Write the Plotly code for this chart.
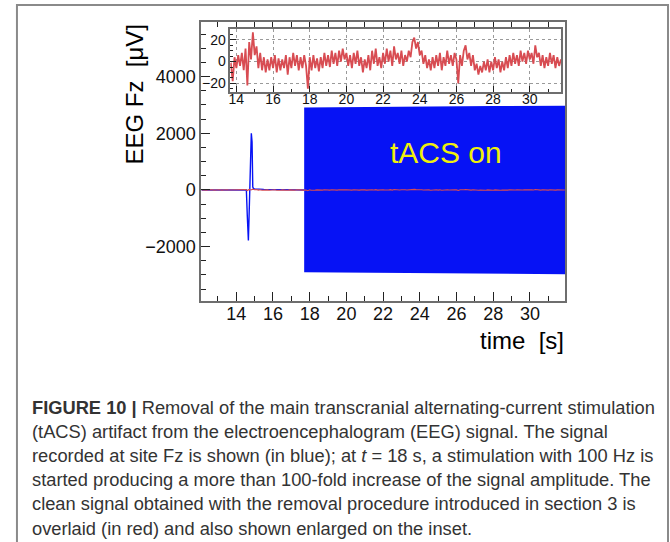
import numpy as np
import plotly.graph_objects as go

W, H = 670, 542

# Cleaned EEG at Fz (μV), sampled every 0.1 s starting at 12.1 s
clean_t0 = 12.1
clean_dt = 0.1
clean_uv = [
    2, -6, 5, -4, 7, -8, 3, -5, 6, -3, 8, -6, 4, -7, 5, -3,            # 12.1 - 13.6
    -2, -18, 4, -6, 6, -4, 8, -8, 12, -22, 18, 2, 27, 6, 14, -6,        # 13.7 - 15.2
    8, -8, 4, -10, 2, -8, 4, -6, 6, -10, 3, -8, 2, -6, 6, -12,          # 15.3 - 16.8
    4, -6, 8, -4, 6, -8, 4, -6, 6, -4, -25, 4, -8, 6, -6, 3,            # 16.9 - 18.4
    -9, 4, -6, 8, -4, 6, -5, 10, -2, 8, -4, 10, 0, 12, 2, 8,            # 18.5 - 20.0
    -4, 6, -6, 8, -2, 10, -4, 4, -10, 2, -6, 6, -8, 10, -2, 12,         # 20.1 - 21.6
    -4, 4, -6, 8, -2, 12, 0, 10, -4, 14, 2, 8, -2, 10, -4, 6,           # 21.7 - 23.2
    0, 10, 4, 18, 22, 12, 18, 6, 10, -2, 6, -6, 2, -8, 4, -6,           # 23.3 - 24.8
    6, -4, 8, -8, 4, -4, 10, -2, 6, -4, 8, 2, -20, 6, -4, 10,           # 24.9 - 26.4
    15, 2, 8, -4, 6, -8, -2, -12, -4, -10, 0, -8, 2, -10, 0, -8,        # 26.5 - 28.0
    4, -6, 2, -10, 0, -8, 4, -6, 6, -4, 8, -2, 6, -4, 10, 0,            # 28.1 - 29.6
    8, -2, 10, 2, 8, -2, 15, 4, 8, -4, 6, -6, 4, -4, 8, -2,             # 29.7 - 31.2
    6, -6, 4, -4, 2, -3, 1,                                             # 31.3 - 31.9
]
clean_t = np.round(clean_t0 + clean_dt * np.arange(len(clean_uv)), 2)

# Raw EEG at Fz (μV) before stimulation, with the artefact spike near 14.7 s
raw_t = [12.1, 14.55, 14.6, 14.63, 14.66, 14.69, 14.72, 14.76, 14.79,
         14.82, 14.86, 14.9, 14.95, 15.5, 16.5, 17.7]
raw_uv = [0, 0, -900, -1500, -1780, -1100, 0, 700, 1300,
          2000, 1700, 100, 40, 20, 10, 0]

# Envelope of the raw signal during 100 Hz tACS (μV)
stim_t = [17.7, 20, 24, 28, 31.93]
stim_hi = [2915, 2930, 2945, 2960, 2970]
stim_lo = [-2905, -2920, -2940, -2960, -2975]

main_xticks = [14, 16, 18, 20, 22, 24, 26, 28, 30]
main_yticks = [-2000, 0, 2000, 4000]
inset_yticks = [-20, 0, 20]

RED = "rgb(216,76,82)"
BLUE = "rgb(6,18,245)"
AXC = "#6e6e6e"
FONT = "Liberation Sans"


def px(x):
    return x / W


def py(y):
    return 1 - y / H


fig = go.Figure()

# main panel
fig.add_trace(go.Scatter(x=stim_t, y=stim_lo, mode="lines", line=dict(width=0, color=BLUE),
                         xaxis="x", yaxis="y", showlegend=False, hoverinfo="skip"))
fig.add_trace(go.Scatter(x=stim_t, y=stim_hi, mode="lines", line=dict(width=0, color=BLUE),
                         fill="tonexty", fillcolor=BLUE,
                         xaxis="x", yaxis="y", showlegend=False, hoverinfo="skip"))
fig.add_trace(go.Scatter(x=raw_t, y=raw_uv, mode="lines", line=dict(width=1.4, color=BLUE),
                         xaxis="x", yaxis="y", showlegend=False))
fig.add_trace(go.Scatter(x=clean_t, y=clean_uv, mode="lines", line=dict(width=1.1, color=RED),
                         xaxis="x", yaxis="y", showlegend=False))

# inset with the cleaned signal enlarged
fig.add_trace(go.Scatter(x=clean_t, y=clean_uv, mode="lines", line=dict(width=1.8, color=RED),
                         xaxis="x2", yaxis="y2", showlegend=False))

fig.update_layout(
    width=W, height=H,
    margin=dict(l=0, r=0, t=0, b=0),
    paper_bgcolor="white", plot_bgcolor="white",
    font=dict(family=FONT, color="black"),
    xaxis=dict(
        domain=[px(200), px(565)], range=[12.1, 31.93], anchor="y",
        tickmode="array", tickvals=main_xticks,
        ticks="inside", ticklen=9, tickwidth=1, tickcolor="#222",
        minor=dict(ticks="inside", ticklen=5, dtick=1, tick0=0, tickcolor="#222"),
        showline=True, linecolor=AXC, linewidth=2, mirror="ticks",
        showgrid=False, zeroline=False,
        tickfont=dict(size=18, color="#111"),
        ticklabelstandoff=-5,
    ),
    yaxis=dict(
        domain=[py(301), py(22)], range=[-3920, 5930], anchor="x",
        tickmode="array", tickvals=main_yticks,
        ticks="inside", ticklen=9, tickwidth=1, tickcolor="#222",
        minor=dict(ticks="inside", ticklen=5, dtick=500, tick0=0, tickcolor="#222"),
        showline=True, linecolor=AXC, linewidth=2, mirror=True,
        showgrid=False, zeroline=False,
        tickfont=dict(size=18, color="#111"),
    ),
    xaxis2=dict(
        domain=[px(229), px(561)], range=[13.67, 31.72], anchor="y2",
        tickmode="array", tickvals=main_xticks,
        ticks="inside", ticklen=6, tickwidth=1, tickcolor="#222",
        minor=dict(ticks="inside", ticklen=3, dtick=1, tick0=0, tickcolor="#222"),
        showline=True, linecolor=AXC, linewidth=1.5, mirror=True,
        showgrid=True, gridcolor="#9a9a9a", griddash="dot", gridwidth=1,
        zeroline=False,
        tickfont=dict(size=14, color="#111"),
        ticklabelstandoff=-7,
    ),
    yaxis2=dict(
        domain=[py(92), py(29)], range=[-28, 30], anchor="x2",
        tickmode="array", tickvals=inset_yticks,
        ticks="inside", ticklen=6, tickwidth=1, tickcolor="#222",
        minor=dict(ticks="inside", ticklen=3, dtick=5, tick0=0, tickcolor="#222"),
        showline=True, linecolor=AXC, linewidth=1.5, mirror=True,
        showgrid=True, gridcolor="#9a9a9a", griddash="dot", gridwidth=1,
        zeroline=False,
        tickfont=dict(size=14, color="#111"),
    ),
)

# white backing behind the inset
fig.add_shape(type="rect", xref="paper", yref="paper", layer="below",
              x0=px(229), x1=px(561), y0=py(92), y1=py(29),
              fillcolor="white", line=dict(width=0))

# figure frame
fig.add_shape(type="path", xref="paper", yref="paper",
              path=f"M {px(15)} {py(560)} L {px(15)} {py(5)} L {px(668)} {py(5)} L {px(668)} {py(560)}",
              line=dict(color="#8a8a8a", width=2))

annotations = [
    dict(x=px(133), y=py(94), text="EEG Fz  [μV]", textangle=-90,
         font=dict(size=24, color="black"), showarrow=False,
         xref="paper", yref="paper", xanchor="center", yanchor="middle"),
    dict(x=px(566), y=py(340), text="time  [s]",
         font=dict(size=24, color="black"), showarrow=False,
         xref="paper", yref="paper", xanchor="right", yanchor="middle"),
    dict(x=px(445), y=py(152), text="tACS on",
         font=dict(size=30, color="rgb(240,240,10)"), showarrow=False,
         xref="paper", yref="paper", xanchor="center", yanchor="middle"),
]

caption_lines = [
    "<b>FIGURE 10 |</b> Removal of the main transcranial alternating-current stimulation",
    "(tACS) artifact from the electroencephalogram (EEG) signal. The signal",
    "recorded at site Fz is shown (in blue); at <i>t</i> = 18 s, a stimulation with 100 Hz is",
    "started producing a more than 100-fold increase of the signal amplitude. The",
    "clean signal obtained with the removal procedure introduced in section 3 is",
    "overlaid (in red) and also shown enlarged on the inset.",
]
for i, line in enumerate(caption_lines):
    annotations.append(dict(
        x=px(28), y=py(407 + 24.2 * i), text=line, showarrow=False,
        xref="paper", yref="paper", xanchor="left", yanchor="middle",
        font=dict(size=18.3, color="#333333", family="Liberation Sans"),
    ))

fig.update_layout(annotations=annotations)

fig.write_html("out.html")
